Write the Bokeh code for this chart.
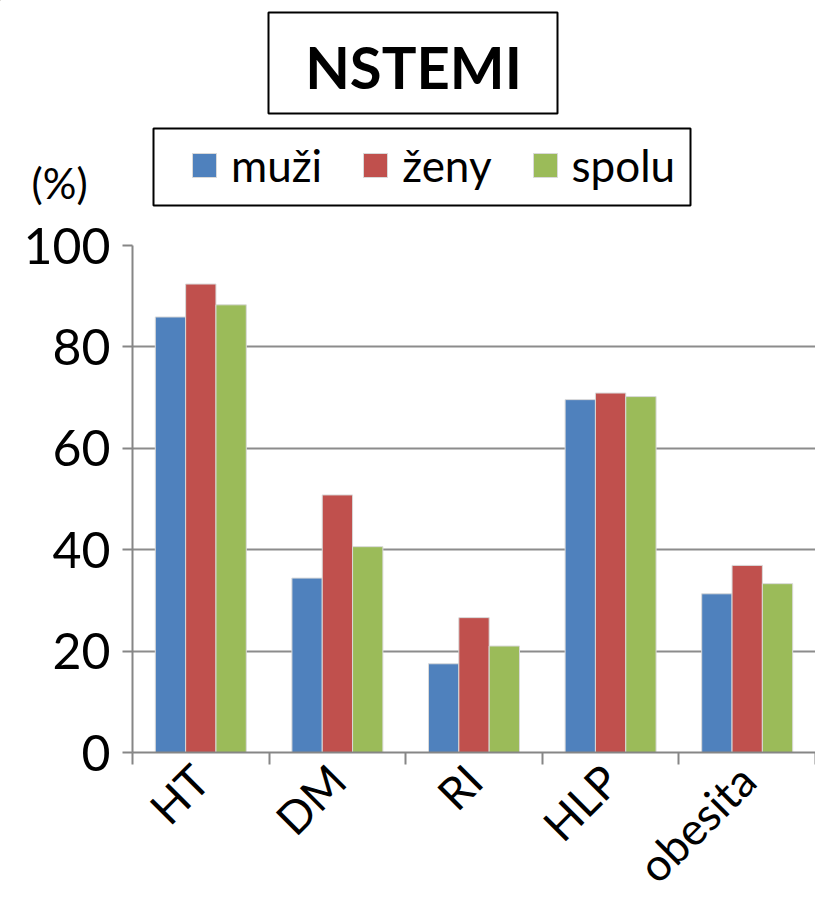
import numpy as np
from bokeh.plotting import figure
from bokeh.models import (Range1d, FixedTicker, Label, BoxAnnotation, Legend, LegendItem,
                          ColumnDataSource)
from bokeh.embed import file_html
from bokeh.resources import INLINE

# ---- data ----
categories = ["HT", "DM", "RI", "HLP", "obesita"]
series_names = ["muži", "ženy", "spolu"]
muzi = [85.9, 34.4, 17.5, 69.6, 31.3]
zeny = [92.4, 50.8, 26.6, 70.9, 36.9]
spolu = [88.3, 40.6, 21.0, 70.2, 33.3]
y_ticks = [0, 20, 40, 60, 80, 100]
title_text = "NSTEMI"
unit_text = "(%)"

colors = ["#4F81BD", "#C0504D", "#9BBB59"]
FONT = "Lato"
W = 815
TOP_H = 210
MAIN_H = 704

# ---------- header figure (title, legend, unit) ----------
top = figure(width=W, height=TOP_H, output_backend="svg", toolbar_location=None,
             x_range=Range1d(0, W), y_range=Range1d(TOP_H, 0),
             x_axis_type=None, y_axis_type=None,
             min_border=0, min_border_left=0, min_border_right=0,
             min_border_top=0, min_border_bottom=0)
top.outline_line_color = None
top.xgrid.visible = False
top.ygrid.visible = False

top.add_layout(BoxAnnotation(left=268, right=557, top=12, bottom=113,
                             fill_color="white", fill_alpha=1.0,
                             line_color="black", line_alpha=1.0, line_width=2))
top.add_layout(Label(x=413, y=66, text=title_text, text_align="center",
                     text_baseline="middle", text_font=FONT, text_font_style="bold",
                     text_font_size="58px", text_color="black"))
top.add_layout(BoxAnnotation(left=153, right=690, top=128, bottom=205,
                             fill_color="white", fill_alpha=1.0,
                             line_color="black", line_alpha=1.0, line_width=2))
top.add_layout(Label(x=31, y=182, text=unit_text, text_align="left",
                     text_baseline="middle", text_font=FONT,
                     text_font_size="42px", text_color="black"))

# legend swatches come from glyphs that sit outside the visible range
dummy = []
for col in colors:
    dummy.append(top.vbar(x=[-1000], top=[-1000], bottom=[-1001], width=1,
                          fill_color=col, line_color="#d9d9d9"))
legend = Legend(items=[LegendItem(label=n, renderers=[r]) for n, r in zip(series_names, dummy)],
                orientation="horizontal", location=(189, 19), margin=0,
                padding=0, spacing=38, label_standoff=12,
                glyph_width=30, glyph_height=30,
                label_text_font=FONT, label_text_font_size="44px",
                label_text_color="black", label_text_baseline="middle",
                border_line_color=None, background_fill_alpha=0.0)
top.add_layout(legend)

# ---------- main chart ----------
p = figure(width=W, height=MAIN_H, output_backend="svg", toolbar_location=None,
           x_range=Range1d(0, len(categories)), y_range=Range1d(0, 100),
           min_border_left=132, min_border_right=0, min_border_top=35,
           min_border_bottom=MAIN_H - 35 - 507)
p.outline_line_color = None

idx = np.arange(len(categories))
bw = 0.222
offsets = [-bw, 0.0, bw]
for vals, off, col in zip([muzi, zeny, spolu], offsets, colors):
    src = ColumnDataSource(dict(x=idx + 0.5 + off, top=vals))
    p.vbar(x="x", top="top", width=bw, bottom=0, source=src,
           fill_color=col, line_color="#d9d9d9", line_width=1)

xa = p.xaxis[0]
xa.ticker = FixedTicker(ticks=list(idx + 0.5), minor_ticks=list(np.arange(len(categories) + 1)))
xa.major_label_overrides = {float(i + 0.5): c for i, c in enumerate(categories)}
xa.major_tick_out = 0
xa.major_tick_in = 0
xa.minor_tick_out = 12
xa.minor_tick_in = 0
xa.minor_tick_line_color = "#868686"
xa.minor_tick_line_width = 2
xa.axis_line_color = "#868686"
xa.axis_line_width = 2
xa.major_label_orientation = np.pi / 4
xa.major_label_text_font = FONT
xa.major_label_text_font_size = "45px"
xa.major_label_text_color = "black"
xa.major_label_standoff = 8

ya = p.yaxis[0]
ya.ticker = FixedTicker(ticks=y_ticks, minor_ticks=[])
ya.major_tick_out = 10
ya.major_tick_in = 0
ya.major_tick_line_color = "#868686"
ya.major_tick_line_width = 2
ya.axis_line_color = "#868686"
ya.axis_line_width = 2
ya.major_label_text_font = FONT
ya.major_label_text_font_size = "50px"
ya.major_label_text_color = "black"
ya.major_label_standoff = 12

p.xgrid.grid_line_color = None
p.ygrid.ticker = FixedTicker(ticks=y_ticks)
p.ygrid.grid_line_color = "#8c8c8c"
p.ygrid.grid_line_width = 2

open("out.html", "w").write(file_html([top, p], INLINE))
